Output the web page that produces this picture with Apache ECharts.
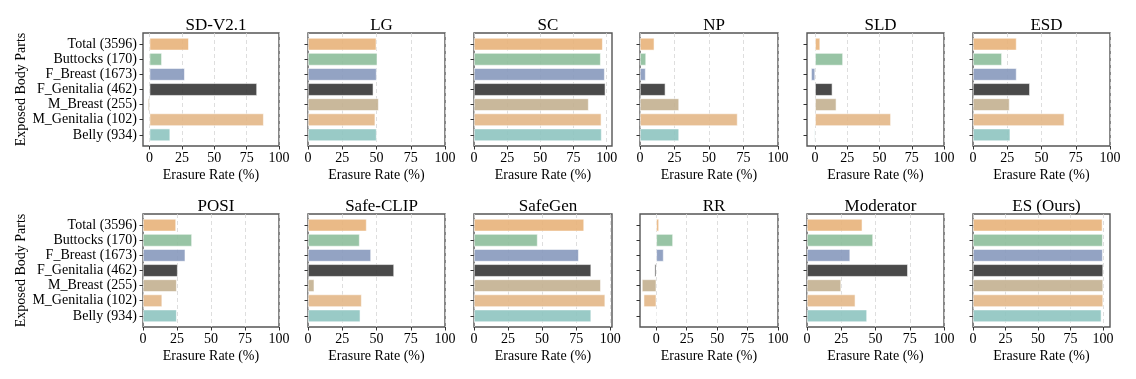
<!DOCTYPE html>
<html>
<head>
<meta charset="utf-8">
<script src="https://cdn.jsdelivr.net/npm/echarts@6/dist/echarts.min.js"></script>
<style>
  html, body { margin: 0; padding: 0; background: #fff; }
  #main { width: 1136px; height: 379px; }
</style>
</head>
<body>
<div id="main"></div>
<script>
// body parts (top to bottom)
var categories = ['Total (3596)', 'Buttocks (170)', 'F_Breast (1673)', 'F_Genitalia (462)',
  'M_Breast (255)', 'M_Genitalia (102)', 'Belly (934)'];
var barColors = ['#e8b47d', '#8fbf9d', '#8a9bbe', '#3b3b3b', '#c4b293', '#e4b98a', '#90c5c1'];

var methods = ['SD-V2.1', 'LG', 'SC', 'NP', 'SLD', 'ESD',
  'POSI', 'Safe-CLIP', 'SafeGen', 'RR', 'Moderator', 'ES (Ours)'];

// erasure rate (%) per method, same order as categories
var sdV21     = [30.3, 9.5, 27.2, 83.0, -1.3, 88.2, 15.9];
var lg        = [49.9, 50.6, 50.1, 47.7, 51.6, 49.1, 50.1];
var sc        = [97.0, 95.5, 98.5, 99.0, 86.4, 96.0, 96.2];
var np        = [10.4, 4.4, 4.1, 18.4, 28.3, 70.7, 28.3];
var sld       = [3.9, 21.6, -3.1, 13.4, 16.5, 58.8, -0.7];
var esd       = [31.8, 21.1, 31.8, 41.5, 26.7, 66.7, 27.2];
var posi      = [24.3, 36.0, 31.1, 25.5, 24.8, 14.1, 24.8];
var safeClip  = [42.8, 37.7, 46.0, 62.8, 4.6, 39.2, 38.2];
var safeGen   = [80.8, 46.7, 76.9, 86.0, 93.1, 96.3, 86.0];
var rr        = [2.2, 13.7, 6.0, -1.4, -11.8, -10.4, -0.5];
var moderator = [40.4, 48.2, 31.5, 73.6, 24.9, 35.3, 43.8];
var esOurs    = [99.5, 99.7, 99.7, 100, 100, 100, 98.7];

// x limits of each panel (auto-scaled in the original) and tick labels
var xMin = [-5.1, 0, 0, 0, -6.3, 0, 0, 0, 0, -13.4, 0, 0];
var xMax = [100, 100, 104, 100, 100, 100, 100, 100, 101.3, 100, 100, 105.3];
var xTicks = [0, 25, 50, 75, 100];

(function () {
  var allValues = [sdV21, lg, sc, np, sld, esd, posi, safeClip, safeGen, rr, moderator, esOurs];

  var font = "'Liberation Serif', 'Times New Roman', serif";
  var colLeft = [143, 308, 474, 640, 807, 973];
  var colWidth = [136, 137, 138, 138, 137, 137];
  var rowTop = [33, 214];
  var boxH = 113;
  var inset = 3.6; // matplotlib's margin above/below the bars

  var grids = [], xAxes = [], yAxes = [], seriesList = [], titles = [];

  for (var i = 0; i < 12; i++) {
    var row = Math.floor(i / 6);
    var col = i % 6;
    var gx = colLeft[col], gy = rowTop[row], gw = colWidth[col];

    // frame grid: border, x axis, grid lines
    grids.push({
      left: gx, top: gy, width: gw, height: boxH,
      show: true, borderColor: '#555', borderWidth: 1.4
    });
    // bar grid
    grids.push({
      left: gx, top: gy + inset, width: gw, height: boxH - 2 * inset
    });

    titles.push({
      text: methods[i],
      left: gx + gw / 2,
      top: gy - 21,
      textAlign: 'center',
      textStyle: { fontFamily: font, fontSize: 17, fontWeight: 'normal', color: '#000' }
    });

    xAxes.push({
      type: 'value', gridIndex: 2 * i, min: xMin[i], max: xMax[i],
      name: 'Erasure Rate (%)', nameLocation: 'middle', nameGap: 22,
      nameTextStyle: { fontFamily: font, fontSize: 14, color: '#000' },
      axisLine: { show: false, onZero: false },
      axisTick: { show: true, customValues: xTicks, length: 3.5, inside: false,
        lineStyle: { color: '#333', width: 1 } },
      axisLabel: { customValues: xTicks, margin: 5, fontFamily: font, fontSize: 14, color: '#000' },
      splitLine: { show: true, lineStyle: { color: '#d6d6d6', type: [4, 3], width: 0.8 } }
    });
    xAxes.push({
      type: 'value', gridIndex: 2 * i + 1, min: xMin[i], max: xMax[i], show: false
    });

    yAxes.push({ type: 'value', gridIndex: 2 * i, min: 0, max: 1, show: false });
    var yAxis = {
      type: 'category', gridIndex: 2 * i + 1, data: categories, inverse: true,
      axisLine: { show: false, onZero: false },
      axisTick: { show: true, alignWithLabel: true, interval: 0, length: 3.5, inside: false,
        lineStyle: { color: '#333', width: 1 } },
      axisLabel: { show: col === 0, interval: 0, margin: 6, fontFamily: font, fontSize: 14, color: '#000' },
      splitLine: { show: false }
    };
    if (col === 0) {
      yAxis.name = 'Exposed Body Parts';
      yAxis.nameLocation = 'middle';
      yAxis.nameGap = 114;
      yAxis.nameTextStyle = { fontFamily: font, fontSize: 14, color: '#000' };
    }
    yAxes.push(yAxis);

    seriesList.push({
      type: 'bar', xAxisIndex: 2 * i + 1, yAxisIndex: 2 * i + 1,
      barWidth: 12.5,
      data: allValues[i].map(function (v, k) {
        return {
          value: v,
          itemStyle: { color: barColors[k], opacity: 0.92, borderColor: '#fff', borderWidth: 0.6 }
        };
      })
    });
  }

  var myChart = echarts.init(document.getElementById('main'));
  var option = {
    animation: false,
    title: titles,
    grid: grids,
    xAxis: xAxes,
    yAxis: yAxes,
    series: seriesList
  };
  myChart.setOption(option);
})();
</script>
</body>
</html>
